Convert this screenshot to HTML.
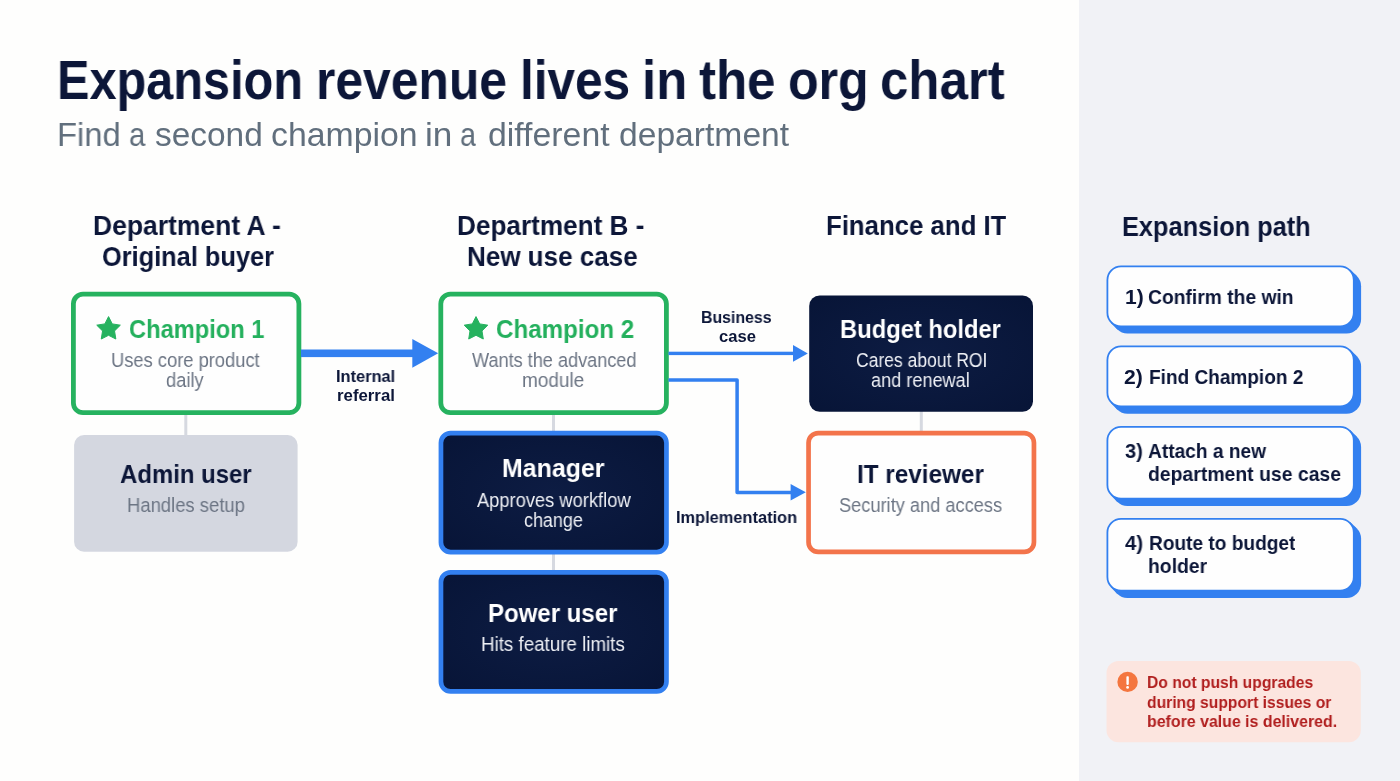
<!DOCTYPE html>
<html lang="en"><head><meta charset="utf-8"><title>Expansion revenue lives in the org chart</title>
<style>
*{box-sizing:border-box;margin:0;padding:0}
html,body{width:1400px;height:781px;overflow:hidden}
body{background:#fefefd;font-family:"Liberation Sans",sans-serif;position:relative}
svg{position:absolute;left:0;top:0}
.t{position:absolute;white-space:nowrap;transform-origin:0 0;line-height:1;font-weight:400;display:block;will-change:transform}
.b{font-weight:700}
h1,p{font-size:inherit;font-weight:inherit}
</style></head>
<body>
<svg width="1400" height="781" viewBox="0 0 1400 781">
<defs><radialGradient id="dk" cx="50%" cy="50%" r="75%"><stop offset="0" stop-color="#0d1c43"/><stop offset="1" stop-color="#071436"/></radialGradient></defs>
<rect x="1079" y="0" width="321" height="781" fill="#f1f2f6"/>
<g fill="#d6d9e0"><rect x="184.3" y="413" width="3" height="24"/><rect x="552" y="413" width="3" height="20"/><rect x="552" y="552" width="3" height="20"/><rect x="919.8" y="410" width="3" height="23"/></g>
<rect x="73.4" y="294.2" width="225.5" height="118.5" rx="9.6" fill="#fefefe" stroke="#26b25f" stroke-width="4.8"/>
<rect x="440.8" y="294.2" width="225.6" height="118.5" rx="9.6" fill="#fefefe" stroke="#26b25f" stroke-width="4.8"/>
<rect x="74.1" y="435" width="223.5" height="116.8" rx="10" fill="#d4d7e0"/>
<rect x="440.95" y="433.15" width="225.5" height="118.9" rx="9.65" fill="url(#dk)" stroke="#3380f0" stroke-width="4.7"/>
<rect x="440.95" y="572.35" width="225.5" height="119.1" rx="9.65" fill="url(#dk)" stroke="#3380f0" stroke-width="4.7"/>
<rect x="809.2" y="295.5" width="223.8" height="116.3" rx="10.5" fill="url(#dk)"/>
<rect x="808.55" y="433.05" width="225.4" height="118.9" rx="9.65" fill="#fefefe" stroke="#f3744b" stroke-width="4.7"/>
<g fill="#3380f0">
<rect x="301" y="349.5" width="113" height="7.6"/>
<polygon points="412.3,338.9 438.2,353.3 412.3,367.8"/>
<rect x="668.5" y="351.7" width="125.5" height="3.4"/>
<polygon points="793,345 807.8,353.4 793,361.8"/>
<polygon points="790.6,484 805.8,492.3 790.6,500.5"/>
</g>
<path d="M668.5 380H737.1V492.4H792" fill="none" stroke="#3380f0" stroke-width="3.5" stroke-linejoin="round"/>
<polygon fill="#26b25f" stroke="#26b25f" stroke-width="1" stroke-linejoin="round" points="108.55,316.60 112.25,323.90 120.34,325.17 114.54,330.95 115.84,339.03 108.55,335.30 101.26,339.03 102.56,330.95 96.76,325.17 104.85,323.90"/>
<polygon fill="#26b25f" stroke="#26b25f" stroke-width="1" stroke-linejoin="round" points="476.00,316.60 479.70,323.90 487.79,325.17 481.99,330.95 483.29,339.03 476.00,335.30 468.71,339.03 470.01,330.95 464.21,325.17 472.30,323.90"/>
<rect x="1112.9" y="271.8" width="248.2" height="61.8" rx="14.5" fill="#3380f0"/>
<polygon fill="#3380f0" points="1350.45,269.65 1356.85,276.05 1117.15,329.35 1110.75,322.95"/>
<rect x="1107.4" y="266.3" width="246.4" height="60" rx="13.6" fill="#fefefe" stroke="#3380f0" stroke-width="1.8"/>
<rect x="1112.9" y="351.9" width="248.2" height="61.8" rx="14.5" fill="#3380f0"/>
<polygon fill="#3380f0" points="1350.45,349.75 1356.85,356.15 1117.15,409.45 1110.75,403.05"/>
<rect x="1107.4" y="346.4" width="246.4" height="60" rx="13.6" fill="#fefefe" stroke="#3380f0" stroke-width="1.8"/>
<rect x="1112.9" y="432.4" width="248.2" height="73.6" rx="14.5" fill="#3380f0"/>
<polygon fill="#3380f0" points="1350.45,430.25 1356.85,436.65 1117.15,501.75 1110.75,495.35"/>
<rect x="1107.4" y="426.9" width="246.4" height="71.8" rx="13.6" fill="#fefefe" stroke="#3380f0" stroke-width="1.8"/>
<rect x="1112.9" y="524.3" width="248.2" height="73.6" rx="14.5" fill="#3380f0"/>
<polygon fill="#3380f0" points="1350.45,522.15 1356.85,528.55 1117.15,593.65 1110.75,587.25"/>
<rect x="1107.4" y="518.8" width="246.4" height="71.8" rx="13.6" fill="#fefefe" stroke="#3380f0" stroke-width="1.8"/>
<rect x="1106.5" y="661.1" width="254.3" height="81.2" rx="12" fill="#fce5df"/>
<circle cx="1127.6" cy="681.9" r="10.2" fill="#f4763f"/>
<rect x="1126.4" y="676.3" width="2.4" height="8.6" rx="0.8" fill="#fff"/><circle cx="1127.6" cy="687.4" r="1.4" fill="#fff"/>
</svg>
<h1>
<span class="t b" style="left:56.92px;top:54px;font-size:54.6px;color:#0c1638;transform:scaleX(0.8913)">Expansion</span>
<span class="t b" style="left:315.92px;top:54px;font-size:54.6px;color:#0c1638;transform:scaleX(0.9122)">revenue</span>
<span class="t b" style="left:520.01px;top:54px;font-size:54.6px;color:#0c1638;transform:scaleX(0.9067)">lives</span>
<span class="t b" style="left:641.82px;top:54px;font-size:54.6px;color:#0c1638;transform:scaleX(0.9305)">in</span>
<span class="t b" style="left:699.39px;top:54px;font-size:54.6px;color:#0c1638;transform:scaleX(0.9339)">the</span>
<span class="t b" style="left:788.26px;top:54px;font-size:54.6px;color:#0c1638;transform:scaleX(0.9185)">org</span>
<span class="t b" style="left:879.98px;top:54px;font-size:54.6px;color:#0c1638;transform:scaleX(0.9348)">chart</span>
</h1>
<p>
<span class="t" style="left:56.91px;top:118px;font-size:33.3px;color:#616f7d;transform:scaleX(0.9839)">Find</span>
<span class="t" style="left:128.51px;top:118px;font-size:33.3px;color:#616f7d;transform:scaleX(0.8789)">a</span>
<span class="t" style="left:154.83px;top:118px;font-size:33.3px;color:#616f7d;transform:scaleX(1.0035)">second</span>
<span class="t" style="left:271.27px;top:118px;font-size:33.3px;color:#616f7d;transform:scaleX(1.0154)">champion</span>
<span class="t" style="left:425.38px;top:118px;font-size:33.3px;color:#616f7d;transform:scaleX(1.0557)">in</span>
<span class="t" style="left:459.98px;top:118px;font-size:33.3px;color:#616f7d;transform:scaleX(0.8610)">a</span>
<span class="t" style="left:487.52px;top:118px;font-size:33.3px;color:#616f7d;transform:scaleX(1.0160)">different</span>
<span class="t" style="left:618.73px;top:118px;font-size:33.3px;color:#616f7d;transform:scaleX(1.0101)">department</span>
</p>
<div class="t b" style="left:93.28px;top:212px;font-size:27.7px;color:#0c1638;transform:scaleX(0.9561)">Department A -</div>
<div class="t b" style="left:101.90px;top:243px;font-size:27.7px;color:#0c1638;transform:scaleX(0.9162)">Original buyer</div>
<div class="t b" style="left:457.30px;top:212px;font-size:27.7px;color:#0c1638;transform:scaleX(0.9442)">Department B -</div>
<div class="t b" style="left:466.81px;top:243px;font-size:27.7px;color:#0c1638;transform:scaleX(0.9396)">New use case</div>
<div class="t b" style="left:826.33px;top:212px;font-size:27.7px;color:#0c1638;transform:scaleX(0.9304)">Finance and IT</div>
<div class="t b" style="left:1122.43px;top:213px;font-size:27.9px;color:#0c1638;transform:scaleX(0.9089)">Expansion path</div>
<div class="t b" style="left:128.74px;top:316px;font-size:26.2px;color:#24b05d;transform:scaleX(0.9038)">Champion 1</div>
<div class="t b" style="left:495.92px;top:316px;font-size:26.2px;color:#24b05d;transform:scaleX(0.9224)">Champion 2</div>
<div class="t b" style="left:119.75px;top:461px;font-size:26.2px;color:#0c1638;transform:scaleX(0.9139)">Admin user</div>
<div class="t b" style="left:501.59px;top:455px;font-size:26.2px;color:#ffffff;transform:scaleX(0.9508)">Manager</div>
<div class="t b" style="left:488.21px;top:600px;font-size:26.2px;color:#ffffff;transform:scaleX(0.9170)">Power user</div>
<div class="t b" style="left:840.23px;top:316px;font-size:26.2px;color:#ffffff;transform:scaleX(0.9064)">Budget holder</div>
<div class="t b" style="left:856.94px;top:461px;font-size:26.2px;color:#0c1638;transform:scaleX(0.9272)">IT reviewer</div>
<div class="t" style="left:110.61px;top:351px;font-size:19.3px;color:#6c7584;transform:scaleX(0.9502)">Uses core product</div>
<div class="t" style="left:166.22px;top:371px;font-size:19.3px;color:#6c7584;transform:scaleX(0.9485)">daily</div>
<div class="t" style="left:471.78px;top:351px;font-size:19.3px;color:#6c7584;transform:scaleX(0.9397)">Wants the advanced</div>
<div class="t" style="left:522.18px;top:371px;font-size:19.3px;color:#6c7584;transform:scaleX(0.9844)">module</div>
<div class="t" style="left:126.54px;top:496px;font-size:19.3px;color:#6c7584;transform:scaleX(0.9568)">Handles setup</div>
<div class="t" style="left:477.15px;top:491px;font-size:19.3px;color:#eef0f5;transform:scaleX(0.9487)">Approves workflow</div>
<div class="t" style="left:523.93px;top:511px;font-size:19.3px;color:#eef0f5;transform:scaleX(0.9315)">change</div>
<div class="t" style="left:480.67px;top:635px;font-size:19.3px;color:#eef0f5;transform:scaleX(0.9727)">Hits feature limits</div>
<div class="t" style="left:855.79px;top:351px;font-size:19.3px;color:#eef0f5;transform:scaleX(0.9082)">Cares about ROI</div>
<div class="t" style="left:871.40px;top:371px;font-size:19.3px;color:#eef0f5;transform:scaleX(0.9399)">and renewal</div>
<div class="t" style="left:838.77px;top:496px;font-size:19.3px;color:#6c7584;transform:scaleX(0.9451)">Security and access</div>
<div class="t b" style="left:336.08px;top:369px;font-size:16.6px;color:#0c1638;transform:scaleX(0.9879)">Internal</div>
<div class="t b" style="left:336.84px;top:388px;font-size:16.6px;color:#0c1638;transform:scaleX(1.0125)">referral</div>
<div class="t b" style="left:700.92px;top:310px;font-size:16.6px;color:#0c1638;transform:scaleX(0.9571)">Business</div>
<div class="t b" style="left:718.83px;top:329px;font-size:16.6px;color:#0c1638;transform:scaleX(0.9918)">case</div>
<div class="t b" style="left:675.88px;top:510px;font-size:16.6px;color:#0c1638;transform:scaleX(0.9879)">Implementation</div>
<div>
<span class="t b" style="left:1125.29px;top:286px;font-size:21px;color:#0c1638;transform:scaleX(0.9867)">1)</span>
<span class="t b" style="left:1148.48px;top:286px;font-size:21px;color:#0c1638;transform:scaleX(0.9176)">Confirm the win</span>
</div>
<div>
<span class="t b" style="left:1124.46px;top:366px;font-size:21px;color:#0c1638;transform:scaleX(1.0046)">2)</span>
<span class="t b" style="left:1148.72px;top:366px;font-size:21px;color:#0c1638;transform:scaleX(0.9060)">Find Champion 2</span>
</div>
<div>
<span class="t b" style="left:1125.40px;top:440px;font-size:21px;color:#0c1638;transform:scaleX(0.9526)">3)</span>
<span class="t b" style="left:1148.38px;top:440px;font-size:21px;color:#0c1638;transform:scaleX(0.9109)">Attach a new</span>
<span class="t b" style="left:1148.19px;top:463px;font-size:21px;color:#0c1638;transform:scaleX(0.9239)">department use case</span>
</div>
<div>
<span class="t b" style="left:1125.25px;top:532px;font-size:21px;color:#0c1638;transform:scaleX(0.9651)">4)</span>
<span class="t b" style="left:1148.72px;top:532px;font-size:21px;color:#0c1638;transform:scaleX(0.9095)">Route to budget</span>
<span class="t b" style="left:1147.65px;top:555px;font-size:21px;color:#0c1638;transform:scaleX(0.9216)">holder</span>
</div>
<div class="t b" style="left:1146.54px;top:674px;font-size:17px;color:#b01e1e;transform:scaleX(0.9209)">Do not push upgrades</div>
<div class="t b" style="left:1146.94px;top:694px;font-size:17px;color:#b01e1e;transform:scaleX(0.9209)">during support issues or</div>
<div class="t b" style="left:1146.50px;top:713px;font-size:17px;color:#b01e1e;transform:scaleX(0.9360)">before value is delivered.</div>
</body></html>
